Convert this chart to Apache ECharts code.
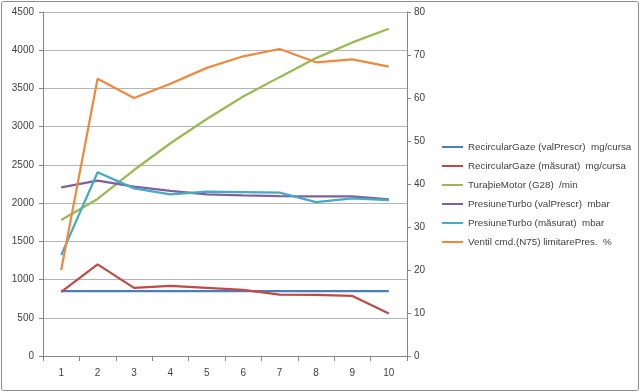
<!DOCTYPE html>
<html>
<head>
<meta charset="utf-8">
<script src="https://cdn.jsdelivr.net/npm/echarts@6/dist/echarts.min.js"></script>
<style>html,body{margin:0;padding:0;background:#fff;}#c{width:640px;height:392px;}</style>
</head>
<body>
<div id="c"></div>
<script>
const categories = ['1','2','3','4','5','6','7','8','9','10'];
const recircPrescr = [850, 850, 850, 850, 850, 850, 850, 850, 850, 850];
const recircMasurat = [839, 1198, 891, 917, 891, 865, 804, 800, 786, 556];
const turatieMotor = [1778, 2055, 2433, 2783, 3100, 3394, 3648, 3897, 4102, 4281];
const turboPrescr = [2207, 2294, 2215, 2160, 2115, 2100, 2090, 2088, 2088, 2050];
const turboMasurat = [1320, 2403, 2193, 2115, 2150, 2145, 2136, 2014, 2063, 2040];
const ventilN75 = [20.0, 64.5, 60.0, 63.3, 67.0, 69.7, 71.4, 68.3, 69.0, 67.3];
const seriesNames = [
  'RecircularGaze (valPrescr)  mg/cursa',
  'RecircularGaze (măsurat)  mg/cursa',
  'TuraþieMotor (G28)  /min',
  'PresiuneTurbo (valPrescr)  mbar',
  'PresiuneTurbo (măsurat)  mbar',
  'Ventil cmd.(N75) limitarePres.  %'
];
const colors = ['#4A7EBB', '#BE4B48', '#98B954', '#7D60A0', '#46AAC5', '#ED8A3F'];
const dataSets = [recircPrescr, recircMasurat, turatieMotor, turboPrescr, turboMasurat, ventilN75];
const axisIdx = [0, 0, 0, 0, 0, 1];

const font = 'Liberation Sans';
const txt = '#404040';
const chart = echarts.init(document.getElementById('c'), null, {renderer: 'canvas'});
chart.setOption({
  animation: false,
  color: colors,
  textStyle: {fontFamily: font},
  graphic: [{
    type: 'rect', shape: {x: 1.5, y: 1.5, width: 637, height: 389, r: 2},
    style: {fill: 'none', stroke: '#8c8c8c', lineWidth: 1}, silent: true
  }],
  grid: {left: 43, right: 233, top: 12, bottom: 36, containLabel: false},
  legend: {
    orient: 'vertical', left: 442, top: 141, padding: 0,
    itemWidth: 21, itemHeight: 2, itemGap: 7,
    icon: 'rect',
    textStyle: {fontFamily: font, fontSize: 9.8, color: txt, lineHeight: 12},
    data: seriesNames
  },
  xAxis: {
    type: 'category', data: categories, boundaryGap: true,
    axisLine: {lineStyle: {color: '#868686'}},
    axisTick: {show: true, length: 5, lineStyle: {color: '#868686'}},
    axisLabel: {color: txt, fontSize: 10, fontFamily: font, margin: 12}
  },
  yAxis: [{
    type: 'value', min: 0, max: 4500, interval: 500, position: 'left',
    axisLine: {show: true, lineStyle: {color: '#868686'}},
    axisTick: {show: true, length: 4, lineStyle: {color: '#868686'}},
    axisLabel: {color: txt, fontSize: 10, fontFamily: font, margin: 9, formatter: v => String(v)},
    splitLine: {lineStyle: {color: '#b4b4b4', width: 1}}
  }, {
    type: 'value', min: 0, max: 80, interval: 10, position: 'right',
    axisLine: {show: true, lineStyle: {color: '#868686'}},
    axisTick: {show: true, length: 4, lineStyle: {color: '#868686'}},
    axisLabel: {color: txt, fontSize: 10, fontFamily: font, margin: 7, formatter: v => String(v)},
    splitLine: {show: false}
  }],
  series: seriesNames.map((n, i) => ({
    name: n, type: 'line', data: dataSets[i], yAxisIndex: axisIdx[i],
    symbol: 'none', smooth: false,
    lineStyle: {width: 2.25, color: colors[i]},
    itemStyle: {color: colors[i]}
  }))
});
</script>
</body>
</html>
